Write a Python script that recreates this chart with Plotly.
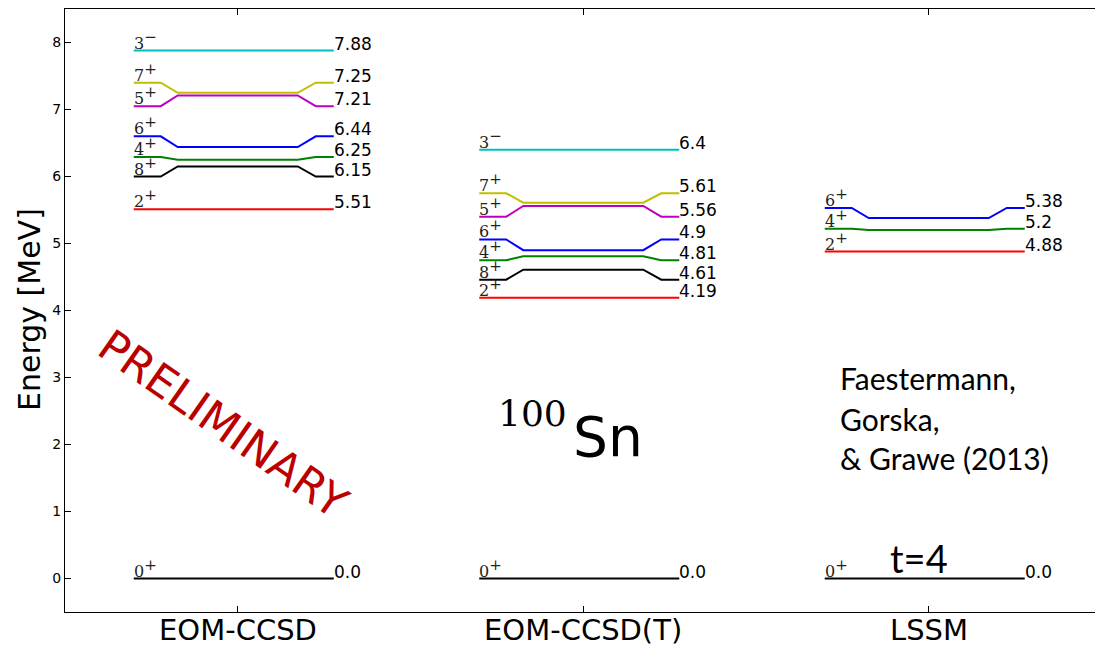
import plotly.graph_objects as go

# ---------------- data ----------------
methods = ["EOM-CCSD", "EOM-CCSD(T)", "LSSM"]

states_full = ["0+", "2+", "8+", "4+", "6+", "5+", "7+", "3-"]
energies_ccsd = [0.0, 5.51, 6.15, 6.25, 6.44, 7.21, 7.25, 7.88]
label_y_ccsd = [0.0, 5.51, 6.00, 6.29, 6.60, 7.05, 7.40, 7.88]

energies_ccsdt = [0.0, 4.19, 4.61, 4.81, 4.9, 5.56, 5.61, 6.4]
label_y_ccsdt = [0.0, 4.19, 4.46, 4.75, 5.06, 5.40, 5.75, 6.40]

states_lssm = ["0+", "2+", "4+", "6+"]
energies_lssm = [0.0, 4.88, 5.2, 5.38]
label_y_lssm = [0.0, 4.88, 5.22, 5.53]

columns = [
    (states_full, energies_ccsd, label_y_ccsd),
    (states_full, energies_ccsdt, label_y_ccsdt),
    (states_lssm, energies_lssm, label_y_lssm),
]

# ---------------- styles ----------------
state_colors = {
    "0+": "#000000", "2+": "#FF0000", "8+": "#000000", "4+": "#008000",
    "6+": "#0000FF", "5+": "#BF00BF", "7+": "#BFBF00", "3-": "#00BFBF",
}
PX_PER_UNIT = 345.5
kink = [0, 27, 44, 164, 182, 200]          # px offsets along a level
start_off = -104                            # px from column centre
X0, W, YT, H = 65, 1030, 9, 603             # plot area in px


def px2paper(px, py):
    return (px - X0) / W, (YT + H - py) / H


def jlabel(s):
    sign = "+" if s.endswith("+") else "\u2212"
    return f"{s[:-1]}<sup><span style='font-size:15px'>{sign}</span></sup>"


fig = go.Figure()
annotations = []

for ci, (states, energies, labs) in enumerate(columns):
    xs = [ci + (start_off + k) / PX_PER_UNIT for k in kink]
    for s, e, ly in zip(states, energies, labs):
        fig.add_trace(go.Scatter(
            x=xs, y=[ly, ly, e, e, ly, ly], mode="lines",
            line=dict(color=state_colors[s], width=2),
            showlegend=False, hoverinfo="skip"))
        annotations.append(dict(
            x=xs[0], y=ly, xref="x", yref="y", text=jlabel(s),
            showarrow=False, xanchor="left", yanchor="bottom", yshift=-4, xshift=-2,
            font=dict(family="DejaVu Serif", size=16, color="#222222")))
        annotations.append(dict(
            x=xs[-1], y=ly, xref="x", yref="y", text=str(e),
            showarrow=False, xanchor="left", yanchor="middle", yshift=7, xshift=-2,
            font=dict(family="DejaVu Sans", size=17, color="#000000")))

# category labels below the axis
for ci, m in enumerate(methods):
    annotations.append(dict(
        x=ci, y=0, xref="x", yref="paper", text=m, showarrow=False,
        xanchor="center", yanchor="middle", yshift=-18,
        font=dict(family="DejaVu Sans", size=29, color="black")))

# free text
def add_text(px, py, text, size, family, color="#000", angle=0, xanchor="center", yanchor="middle"):
    x, y = px2paper(px, py)
    annotations.append(dict(x=x, y=y, xref="paper", yref="paper", text=text,
                            showarrow=False, xanchor=xanchor, yanchor=yanchor,
                            textangle=angle,
                            font=dict(family=family, size=size, color=color)))

add_text(30, 310, "Energy [MeV]", 30, "DejaVu Sans", angle=-90)
add_text(223, 423, "PRELIMINARY", 44, "DejaVu Sans", color="#BB0000", angle=35)
add_text(569, 414, "100", 36, "DejaVu Serif", xanchor="right")
add_text(571, 437, "Sn", 55, "DejaVu Sans", xanchor="left")
add_text(838, 378, "Faestermann,", 30, "Lato", xanchor="left")
add_text(838, 419, "Gorska,", 30, "Lato", xanchor="left")
add_text(838, 458, "&amp; Grawe (2013)", 30, "Lato", xanchor="left")
add_text(919, 558, "t=4", 38, "Lato")

fig.update_layout(
    width=1095, height=648,
    margin=dict(l=65, r=0, t=9, b=36),
    plot_bgcolor="white", paper_bgcolor="white",
    annotations=annotations,
    xaxis=dict(range=[-0.5, -0.5 + W / PX_PER_UNIT], tickvals=[0, 1, 2], showticklabels=False,
               automargin=False,
               showgrid=False, zeroline=False, showline=True, linecolor="black", linewidth=1.3,
               mirror="ticks", ticks="inside", ticklen=6, tickcolor="black"),
    yaxis=dict(range=[-0.5, 8.5], tickvals=list(range(0, 9)), automargin=False,
               showgrid=False, zeroline=False, showline=True, linecolor="black", linewidth=1.3,
               ticks="inside", ticklen=6, tickcolor="black",
               tickfont=dict(family="DejaVu Sans", size=14, color="black")),
)

fig.write_html("out.html")
